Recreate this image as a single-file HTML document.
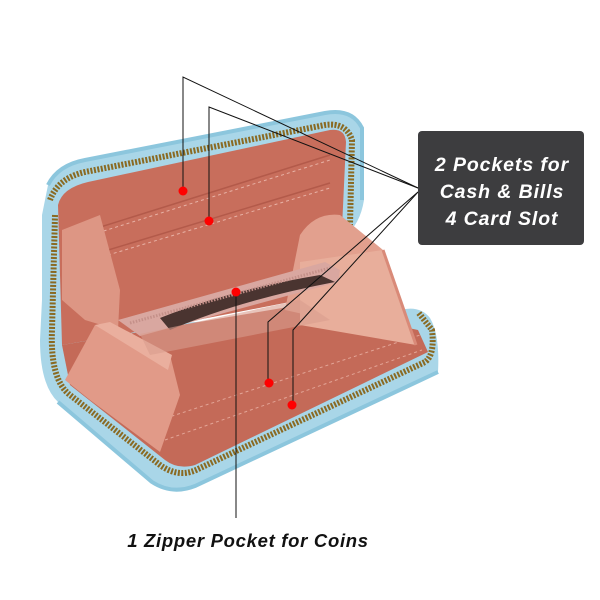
<!DOCTYPE html>
<html><head><meta charset="utf-8"><style>
html,body{margin:0;padding:0;background:#fff;width:600px;height:600px;overflow:hidden}
svg{display:block}
</style></head><body>
<svg width="600" height="600" viewBox="0 0 600 600" xmlns="http://www.w3.org/2000/svg">
<!-- blue shell back -->
<path d="M48,185 Q58,165 85,160 L325,113 Q352,108 362,128 L364,200 Q360,225 345,235 L62,345 L42,340 L42,215 Z" fill="#a9d6e8"/>
<path d="M48,185 Q58,165 85,160 L325,113 Q352,108 362,128 L362,200" fill="none" stroke="#8cc6dd" stroke-width="4"/>
<!-- blue shell front -->
<path d="M42,300 L60,330 L400,310 Q420,305 430,318 Q440,335 438,372 L195,486 Q172,495 152,482 L58,402 Q40,385 40,340 Z" fill="#a9d6e8"/>
<path d="M438,372 L195,486 Q172,495 152,482 L58,402" fill="none" stroke="#8cc6dd" stroke-width="4"/>
<!-- zipper tracks -->
<path d="M50,200 Q58,178 85,172 L325,125 Q346,122 352,140 L350,225" fill="none" stroke="#8a6a22" stroke-width="6" stroke-dasharray="2 1.5"/>
<path d="M55,215 L52,330 Q50,380 70,395 L160,465 Q178,478 196,470 L425,362 Q435,355 432,330 L418,312" fill="none" stroke="#8a6a22" stroke-width="6" stroke-dasharray="2 1.5"/>
<!-- back pink panel -->
<path d="M58,205 Q62,188 88,182 L330,130 Q345,128 346,142 L342,228 L300,300 L120,335 L62,345 Z" fill="#c86e5c"/>
<path d="M75,240 L330,160" stroke="#e8b2a6" stroke-width="1" stroke-dasharray="3 3"/>
<path d="M85,262 L330,188" stroke="#e8b2a6" stroke-width="1" stroke-dasharray="3 3"/>
<path d="M75,238 L330,158 M85,260 L330,186" stroke="#b35a4a" stroke-width="1.5" fill="none" transform="translate(0,-3)"/>
<!-- front pink panel -->
<path d="M62,345 L300,305 L418,330 L428,352 L195,465 Q178,470 165,460 L70,385 Z" fill="#c46a58"/>
<path d="M160,420 L420,335 M165,440 L422,350" stroke="#e3a597" stroke-width="1" stroke-dasharray="3 3"/>
<!-- right flap -->
<path d="M300,235 Q315,212 340,215 L383,250 L416,345 L375,330 L285,310 Z" fill="#e2a08e"/>
<path d="M300,262 L383,250 L416,345 L300,325 Z" fill="#e8ae9b"/>
<path d="M383,250 L416,345" stroke="#d98a78" stroke-width="3"/>
<!-- left flaps -->
<path d="M62,230 L100,215 L120,290 L118,330 L85,320 L62,300 Z" fill="#dd9684"/>
<path d="M65,380 L95,325 L170,355 L180,395 L160,452 L90,400 Z" fill="#e19a88"/>
<path d="M95,325 L110,322 L172,355 L168,370 Z" fill="#eaaf9e"/>
<!-- zipper pocket -->
<path d="M118,320 L325,262 L340,270 L338,282 L140,336 Z" fill="#d9a7a0"/>
<path d="M160,318 Q230,290 320,275 L335,282 Q240,300 170,330 Z" fill="#4a3430"/>
<path d="M130,323 L330,268" stroke="#c49089" stroke-width="3" stroke-dasharray="1.5 1.5"/>
<path d="M140,334 L300,300 L330,320 L150,355 Z" fill="#d99c8e" opacity="0.6"/>
<!-- callout lines -->
<g stroke="#111" stroke-width="1" fill="none">
<path d="M183,191 L183,77 L418,188"/>
<path d="M209,221 L209,107 L418,188"/>
<path d="M268,382 L268,322 L418,192"/>
<path d="M293,405 L293,330 L418,192"/>
<path d="M236,292 L236,518"/>
</g>
<g fill="#ff0000">
<circle cx="183" cy="191" r="4.5"/><circle cx="209" cy="221" r="4.5"/>
<circle cx="236" cy="292" r="4.5"/><circle cx="269" cy="383" r="4.5"/><circle cx="292" cy="405" r="4.5"/>
</g>
<!-- label box -->
<rect x="418" y="131" width="166" height="114" rx="4" fill="#3d3d3f"/>
<g font-family="Liberation Sans, sans-serif" font-weight="bold" font-style="italic" fill="#fff" font-size="19.5" letter-spacing="0.9" text-anchor="middle">
<text x="502" y="171">2 Pockets for</text>
<text x="502" y="198">Cash &amp; Bills</text>
<text x="502" y="225">4 Card Slot</text>
</g>
<text x="248" y="547" font-family="Liberation Sans, sans-serif" font-weight="bold" font-style="italic" font-size="18.5" letter-spacing="0.7" fill="#111" text-anchor="middle">1 Zipper Pocket for Coins</text>
</svg>
</body></html>
